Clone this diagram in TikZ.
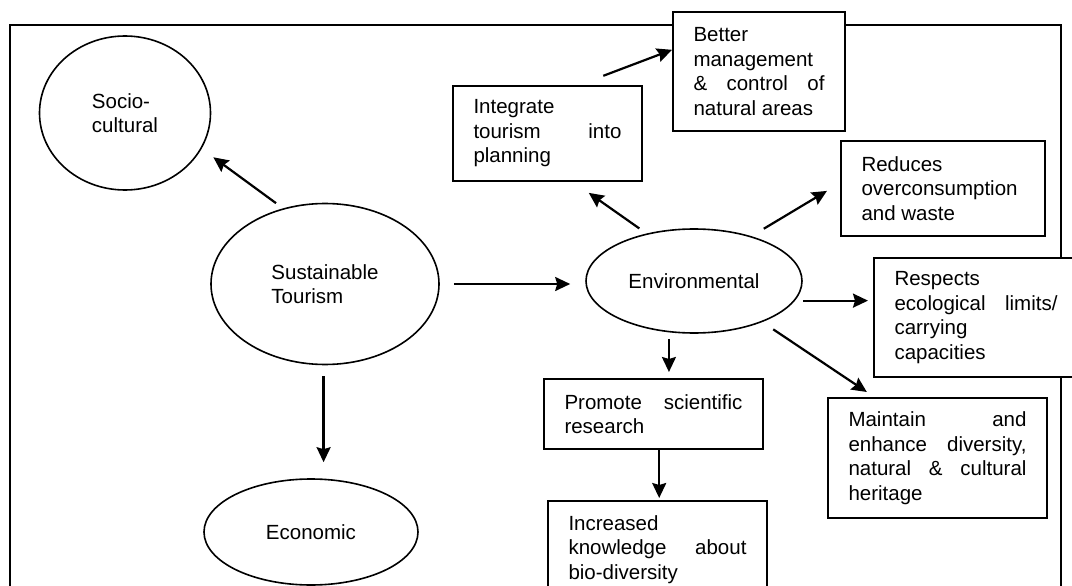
\documentclass[tikz,border=0pt]{standalone}
\usepackage{fontspec}
\setmainfont{Liberation Sans}
\usetikzlibrary{arrows.meta,shapes.geometric}
\tolerance=10000
\hbadness=10000
\hyphenpenalty=10000
\exhyphenpenalty=10000

\begin{document}
\begin{tikzpicture}[x=1pt,y=-1pt,
    txt/.style={font=\fontsize{20.5}{24.5}\selectfont},
    topic/.style={draw,ellipse,line width=1.6pt,txt,align=left,inner sep=0pt},
    note/.style={draw,fill=white,line width=2pt,txt,align=justify,inner xsep=20.5pt,inner ysep=0pt,anchor=north west},
    link/.style={-{Stealth[length=15pt,width=14pt,inset=2pt]},line width=2.2pt}]
    \useasboundingbox (0,0) rectangle (1072,586);
    \clip (0,0) rectangle (1072,586);
    \fill[white] (0,0) rectangle (1072,586);
    \draw[line width=2pt] (10,620) -- (10,25) -- (1061,25) -- (1061,620);

    \node[topic,minimum width=171pt,minimum height=154pt] (socio) at (125,113) {Socio-\\cultural};
    \node[topic,minimum width=228pt,minimum height=161pt] (sust) at (325,284) {Sustainable\\Tourism};
    \node[topic,minimum width=214pt,minimum height=106pt] (econ) at (311,532) {Economic};
    \node[topic,minimum width=216pt,minimum height=104pt] (env) at (694,281) {Environmental};

    \node[note,text width=148pt,minimum height=95pt] (integ) at (452,85) {Integrate\linebreak tourism into\linebreak planning};
    \node[note,text width=131pt,minimum height=119pt] (better) at (672,11) {Better\linebreak management\linebreak \& control of\linebreak natural areas};
    \node[note,text width=163pt,minimum height=95pt] (reduces) at (840,140) {Reduces\linebreak overconsumption\linebreak and waste};
    \node[note,text width=163pt,minimum height=119pt] (resp) at (873,257) {Respects\linebreak ecological limits/\linebreak carrying\linebreak capacities};
    \node[note,text width=178pt,minimum height=70pt] (promote) at (543,378) {Promote scientific\linebreak research};
    \node[note,text width=178pt,minimum height=97pt] (incr) at (547,500) {Increased\linebreak knowledge about\linebreak bio-diversity};
    \node[note,text width=178pt,minimum height=120pt] (maint) at (827,397) {Maintain and\linebreak enhance diversity,\linebreak natural \& cultural\linebreak heritage};

    \draw[link,shorten <=8.7pt,shorten >=14.5pt] (sust.119.2) -- (socio.-25.9);
    \draw[link,shorten <=14pt,shorten >=15pt] (sust.east) -- (sust.east -| env.west);
    \draw[link,shorten <=11pt,shorten >=16pt] (sust.-91) -- (sust.-91 |- econ.north);
    \draw[link,shorten <=8.8pt,shorten >=18.9pt] (env.135) -- (integ.-62);
    \draw[link,shorten <=26pt] (integ.57.6) -- (better.166.6);
    \draw[link,shorten <=14.4pt,shorten >=15.2pt] (env.38.7) -- (reduces.177);
    \draw[link,shorten <=8.3pt,shorten >=5pt] (env.-11.3) -- (env.-11.3 -| resp.west);
    \draw[link,shorten <=13.1pt,shorten >=9pt] (env.-31.2) -- (maint.136.4);
    \draw[link,shorten <=6.4pt,shorten >=6pt] (env.-116.3) -- (env.-116.3 |- promote.north);
    \draw[link,shorten >=2pt] (promote.-81.1) -- (promote.-81.1 |- incr.north);
\end{tikzpicture}
\end{document}
